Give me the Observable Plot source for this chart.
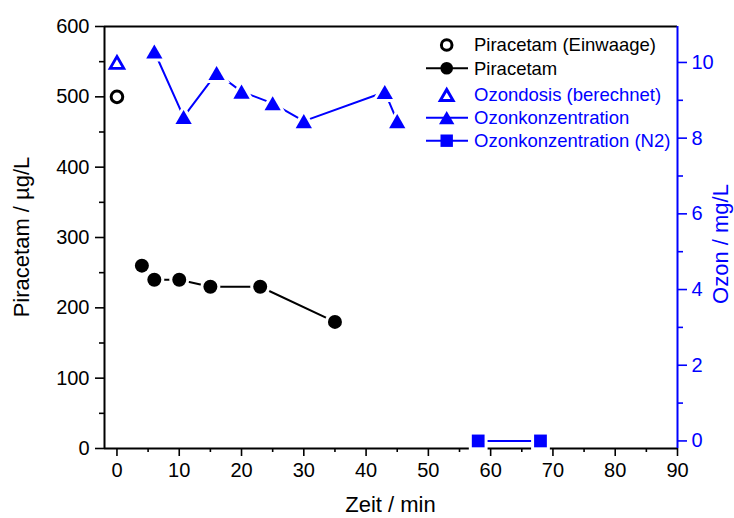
<!DOCTYPE html>
<html><head><meta charset="utf-8">
<script src="https://cdn.jsdelivr.net/npm/d3@7"></script>
<script src="https://cdn.jsdelivr.net/npm/@observablehq/plot@0.6"></script>
<style>
body{margin:0;background:#fff;}
#chart{width:734px;height:518px;overflow:hidden;}
</style></head><body><div id="chart"></div>
<script>
// ---- data ----
const einwaageTime = [0];
const einwaageConc = [500];
const piracetamTime = [4, 6, 10, 15, 23, 35];
const piracetamConc = [260, 240, 240, 230, 230, 180];
const doseTime = [0];
const doseOzone = [10.0];
const ozoneTime = [6, 10.7, 16, 20, 25, 30, 43, 45];
const ozoneConc = [10.29, 8.56, 9.72, 9.23, 8.92, 8.45, 9.22, 8.45];
const n2Time = [58, 68];
const n2Ozone = [0, 0];
const xTicks = [0, 10, 20, 30, 40, 50, 60, 70, 80, 90];
const xMinor = [5, 15, 25, 35, 45, 55, 65, 75, 85];
const leftTicks = [0, 100, 200, 300, 400, 500, 600];
const leftMinor = [50, 150, 250, 350, 450, 550];
const rightTicks = [0, 2, 4, 6, 8, 10];
const rightMinor = [1, 3, 5, 7, 9];
const legendLabels = ["Piracetam (Einwaage)", "Piracetam", "Ozondosis (berechnet)", "Ozonkonzentration", "Ozonkonzentration (N2)"];
const xTitle = "Zeit / min";
const yLeftTitle = "Piracetam / µg/L";
const yRightTitle = "Ozon / mg/L";

// ---- scales ----
const xDomain = [-2, 90];
const yDomain = [0, 600];
const rightDomain = [-0.2, 10.95];
const toLeft = v => (v - rightDomain[0]) / (rightDomain[1] - rightDomain[0]) * (yDomain[1] - yDomain[0]) + yDomain[0];
const fromLeft = y => (y - yDomain[0]) / (yDomain[1] - yDomain[0]) * (rightDomain[1] - rightDomain[0]) + rightDomain[0];

const zip = (xs, ys) => xs.map((x, i) => ({x, y: ys[i]}));
const einwaage = zip(einwaageTime, einwaageConc);
const piracetam = zip(piracetamTime, piracetamConc);
const dose = zip(doseTime, doseOzone.map(toLeft));
const ozone = zip(ozoneTime, ozoneConc.map(toLeft));
const n2 = zip(n2Time, n2Ozone.map(toLeft));

// triangle centred on its bounding box
const tri = {draw(ctx, size) {
  const r = Math.sqrt(size / Math.PI);
  const w = 1.1 * r, h = 0.95 * r;
  ctx.moveTo(0, -h); ctx.lineTo(w, h); ctx.lineTo(-w, h); ctx.closePath();
}};

const BLUE = "#0000ff";
const font = "'Liberation Sans', Arial, Helvetica, sans-serif";
const W = 734, H = 518;

const plot = Plot.plot({
  width: W, height: H,
  marginLeft: 104, marginRight: 57, marginTop: 26, marginBottom: 70,
  x: {domain: xDomain},
  y: {domain: yDomain},
  style: {fontFamily: font, fontSize: "20px", color: "black", background: "white", overflow: "visible"},
  marks: [
    // axes
    Plot.axisX({ticks: xTicks, tickSize: 8, tickPadding: 6, strokeWidth: 1.6, tickFormat: d => d, label: null, fontSize: 20}),
    Plot.axisX({ticks: xMinor, tickSize: 4, strokeWidth: 1.6, tickFormat: () => "", label: null}),
    Plot.axisY({ticks: leftTicks, tickSize: 9, tickPadding: 6, strokeWidth: 1.6, tickFormat: d => d, label: null, fontSize: 20}),
    Plot.axisY({ticks: leftMinor, tickSize: 5, strokeWidth: 1.6, tickFormat: () => "", label: null}),
    Plot.axisY({anchor: "right", ticks: rightTicks.map(toLeft), tickSize: 9, tickPadding: 5, strokeWidth: 1.6,
      tickFormat: d => String(Math.round(fromLeft(d))), label: null, color: BLUE, fontSize: 20}),
    Plot.axisY({anchor: "right", ticks: rightMinor.map(toLeft), tickSize: 5, strokeWidth: 1.6, tickFormat: () => "", label: null, color: BLUE}),
    Plot.ruleY([yDomain[0]], {stroke: "black", strokeWidth: 2}),
    Plot.ruleY([yDomain[1]], {stroke: "black", strokeWidth: 2}),
    Plot.ruleX([xDomain[0]], {stroke: "black", strokeWidth: 2}),
    Plot.ruleX([xDomain[1]], {stroke: BLUE, strokeWidth: 2}),
    // piracetam
    Plot.line(piracetam, {x: "x", y: "y", stroke: "black", strokeWidth: 2}),
    Plot.dot(piracetam, {x: "x", y: "y", r: 7, fill: "black", stroke: "white", strokeWidth: 6, paintOrder: "stroke"}),
    Plot.dot(einwaage, {x: "x", y: "y", r: 5.8, fill: "none", stroke: "black", strokeWidth: 3}),
    // ozone
    Plot.line(ozone, {x: "x", y: "y", stroke: BLUE, strokeWidth: 2}),
    Plot.dot(ozone, {x: "x", y: "y", r: 7.4, symbol: tri, fill: BLUE, stroke: "white", strokeWidth: 6, paintOrder: "stroke"}),
    Plot.dot(dose, {x: "x", y: "y", r: 6.2, symbol: tri, fill: "white", stroke: BLUE, strokeWidth: 2.8}),
    Plot.line(n2, {x: "x", y: "y", stroke: BLUE, strokeWidth: 2}),
    Plot.dot(n2, {x: "x", y: "y", r: 7.2, symbol: "square", fill: BLUE, stroke: "white", strokeWidth: 6, paintOrder: "stroke"})
  ]
});

document.getElementById("chart").appendChild(plot);

// ---- titles ----
const svg = d3.select(plot);
const titles = svg.append("g").attr("font-family", font).attr("font-size", 22).attr("text-anchor", "middle");
titles.append("text").attr("x", 390.5).attr("y", 512).attr("fill", "black").text(xTitle);
titles.append("text").attr("transform", "translate(29,237) rotate(-90)").attr("fill", "black").text(yLeftTitle);
titles.append("text").attr("transform", "translate(728,244) rotate(-90)").attr("fill", BLUE).text(yRightTitle);

// ---- legend ----
const legendStyle = [
  {color: "black", sym: d3.symbolCircle, r: 5.3, filled: false, line: false},
  {color: "black", sym: d3.symbolCircle, r: 6.3, filled: true, line: true},
  {color: BLUE, sym: tri, r: 5.8, filled: false, line: false},
  {color: BLUE, sym: tri, r: 7.0, filled: true, line: true},
  {color: BLUE, sym: d3.symbolSquare, r: 7.0, filled: true, line: true}
];
const rowY = [45, 68.3, 95, 117.7, 140.7];
const lg = svg.append("g").attr("font-family", font).attr("font-size", 18.5).attr("text-anchor", "start");
legendLabels.forEach((lab, i) => {
  const s = legendStyle[i], y = rowY[i], cx = 446.7;
  if (s.line) lg.append("line").attr("x1", 426).attr("x2", 468).attr("y1", y).attr("y2", y).attr("stroke", s.color).attr("stroke-width", 2);
  lg.append("path").attr("transform", `translate(${cx},${y})`)
    .attr("d", d3.symbol(s.sym, s.r * s.r * Math.PI)())
    .attr("fill", s.filled ? s.color : "white")
    .attr("stroke", s.filled ? "none" : s.color)
    .attr("stroke-width", s.filled ? 0 : 3);
  lg.append("text").attr("x", 474).attr("y", y).attr("dy", "0.35em").attr("fill", s.color).text(lab);
});
</script>
</body></html>
